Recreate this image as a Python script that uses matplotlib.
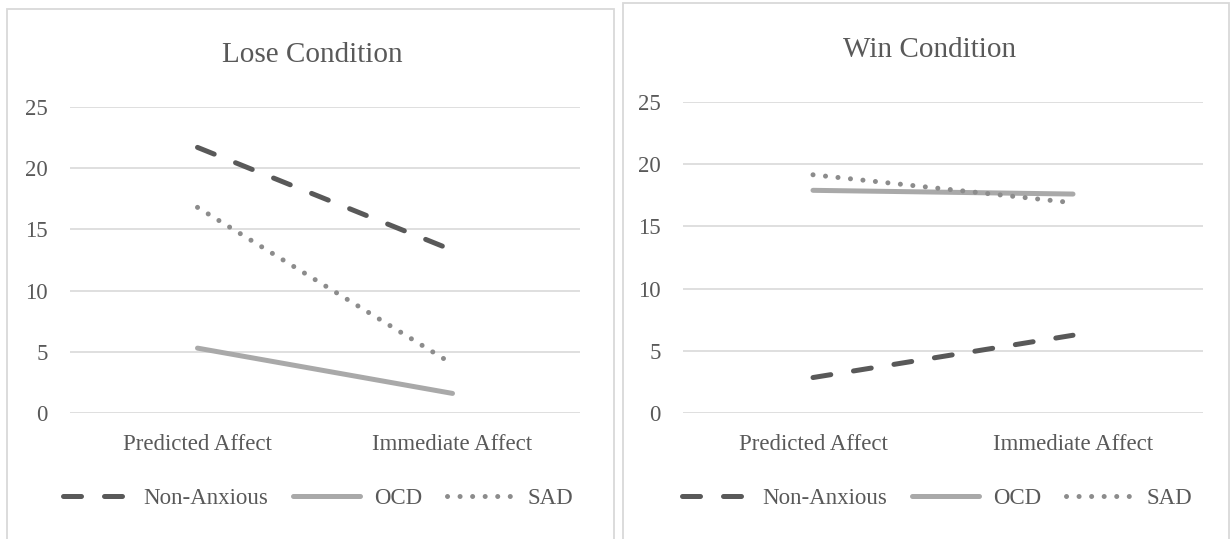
import matplotlib
matplotlib.use("Agg")
import matplotlib.pyplot as plt
from matplotlib.patches import Rectangle

plt.rcParams['font.family'] = ['Liberation Serif', 'DejaVu Serif']

# Group means for each condition
categories = ["Predicted Affect", "Immediate Affect"]
groups = ["Non-Anxious", "OCD", "SAD"]
lose_non_anxious = [21.7, 13.3]
lose_ocd = [5.3, 1.6]
lose_sad = [16.8, 4.0]
win_non_anxious = [2.85, 6.25]
win_ocd = [17.9, 17.6]
win_sad = [19.15, 16.9]

text_color = "#595959"
styles = {
    "Non-Anxious": dict(color="#595959", lw=3.6, ls=(0, (3.6, 4.6)),
                        dash_capstyle="round", solid_capstyle="round"),
    "OCD": dict(color="#a9a9a9", lw=3.6, ls="-", solid_capstyle="round"),
    "SAD": dict(color="#8c8c8c", lw=3.6, ls=(0, (0.01, 2.5)),
                dash_capstyle="round"),
}

fig = plt.figure(figsize=(12.31, 5.39), dpi=100)
W, H = 1231, 539

# light frames round each chart
for x0, y0, x1 in [(7, 9, 614), (623, 3, 1229)]:
    fig.patches.append(Rectangle((x0 / W, -0.1), (x1 - x0) / W, (H - y0) / H + 0.1,
                                 transform=fig.transFigure, fill=False,
                                 ec="#d9d9d9", lw=1.3))

panels = [
    ("Lose Condition", [lose_non_anxious, lose_ocd, lose_sad],
     [70 / W, 126 / H, 510 / W, 306 / H], 312, 55, 318),
    ("Win Condition", [win_non_anxious, win_ocd, win_sad],
     [683 / W, 126 / H, 520 / W, 311 / H], 930, 50, 937),
]

for title, series, rect, title_x, title_y, legend_x in panels:
    ax = fig.add_axes(rect)
    xs = range(len(categories))
    for name, vals in zip(groups, series):
        ax.plot(xs, vals, label=name, **styles[name])
    ax.set_xlim(-0.5, 1.5)
    ax.set_ylim(0, 25)
    ax.set_yticks([0, 5, 10, 15, 20, 25])
    ax.set_xticks(list(xs))
    ax.set_xticklabels(categories)
    ax.yaxis.grid(True, color="#d9d9d9", lw=1.2)
    ax.set_axisbelow(True)
    for s in ax.spines.values():
        s.set_visible(False)
    ax.tick_params(axis="both", length=0, labelsize=16.5, colors=text_color)
    ax.tick_params(axis="y", pad=16)
    ax.tick_params(axis="x", pad=15)
    fig.text(title_x / W, 1 - title_y / H, title, ha="center", va="center",
             fontsize=21, color=text_color)
    leg = fig.legend(handles=ax.get_lines(), labels=groups, ncol=3,
                     loc="center", bbox_to_anchor=(legend_x / W, 1 - 498 / H),
                     frameon=False, fontsize=16.5, handlelength=2.9,
                     handletextpad=0.6, columnspacing=1.1)
    for t in leg.get_texts():
        t.set_color(text_color)

fig.savefig("out.png", dpi=100, facecolor="white")
